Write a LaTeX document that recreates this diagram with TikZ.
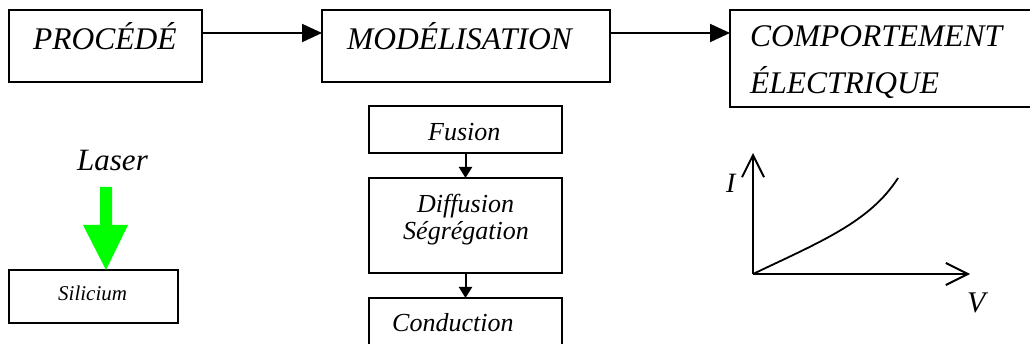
\documentclass[tikz,border=0pt]{standalone}
\usepackage{fontspec}
\setmainfont{Liberation Serif}
\usetikzlibrary{arrows.meta}
\definecolor{lasergreen}{RGB}{0,255,0}
\begin{document}
\begin{tikzpicture}[x=1pt,y=-1pt,
  box/.style={draw,line width=2pt,inner sep=0pt,outer sep=0pt},
  lbl/.style={inner sep=0pt,anchor=base west,font=\itshape\fontsize{#1}{#1}\selectfont},
  bigarrow/.style={line width=2pt,-{Triangle[length=20pt,width=18pt]}},
  smallarrow/.style={line width=2pt,-{Triangle[length=11pt,width=13pt]}},
  axis/.style={line width=2pt,-{Straight Barb[length=22pt,width=22pt,line width=2pt]}}]
\clip (0,0) rectangle (1030,344);
% top row boxes
\node[box,minimum width=193pt,minimum height=72pt] (proc) at (105.5,46) {};
\node[box,minimum width=288pt,minimum height=72pt] (mod) at (466,46) {};
\node[box,minimum width=310pt,minimum height=97pt] (comp) at (885,58.5) {};
\node[lbl=31.5] (tproc) at (33,50) {PROCÉDÉ};
\node[lbl=31.5] (tmod) at (347,50) {MODÉLISATION};
\node[lbl=31.5] (tcomp1) at (750,47) {COMPORTEMENT};
\node[lbl=31.5] (tcomp2) at (750,94) {ÉLECTRIQUE};
\coordinate (arow) at (0,33);
\draw[bigarrow] (proc.east |- arow) -- (mod.west |- arow);
\draw[bigarrow] (mod.east |- arow) -- (comp.west |- arow);
% procede column
\node[lbl=31] (laser) at (77,171) {Laser};
\node[box,minimum width=169pt,minimum height=53pt] (sil) at (93.5,296.5) {};
\node[lbl=21] (tsil) at (58,301) {Silicium};
\fill[lasergreen] (100,187) -- (112,187) -- (112,225) -- (128,225) -- (106,270) -- (83,225) -- (100,225) -- cycle;
% modelisation column
\node[box,minimum width=193pt,minimum height=47pt] (fus) at (465.5,129.5) {};
\node[box,minimum width=193pt,minimum height=95pt] (diff) at (465.5,225.5) {};
\node[box,minimum width=193pt,minimum height=62pt] (cond) at (465.5,329) {};
\node[lbl=26] (tfus) at (428,141) {Fusion};
\node[lbl=26] (tdiff1) at (417,213) {Diffusion};
\node[lbl=26] (tdiff2) at (403,240) {Ségrégation};
\node[lbl=26] (tcond) at (392,332) {Conduction};
\draw[smallarrow] (fus.south) -- (diff.north);
\draw[smallarrow] (diff.south) -- (cond.north);
% I-V graph
\coordinate (o) at (753,274);
\coordinate (ytip) at (753,153);
\coordinate (xtip) at (970,274);
\draw[axis] (o) -- (ytip);
\draw[axis] (o) -- (xtip);
\draw[line width=1.8pt] (o) .. controls (820,242) and (870,222) .. (898,178);
\node[lbl=28] (ti) at (726,193) {I};
\node[lbl=30] (tv) at (967,313) {V};
\end{tikzpicture}
\end{document}
